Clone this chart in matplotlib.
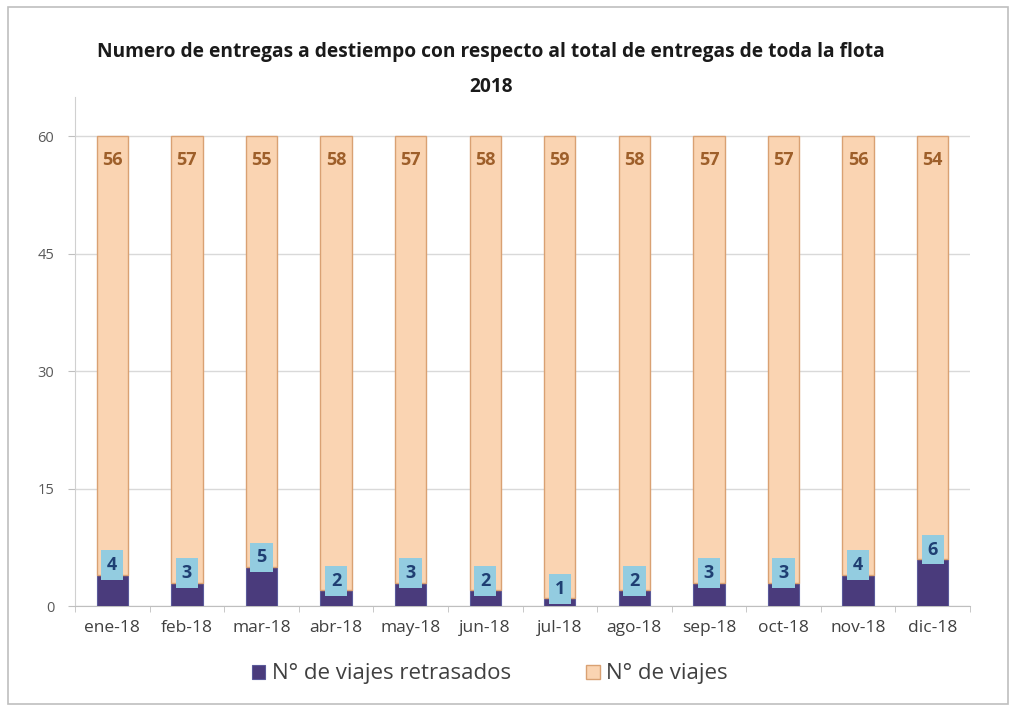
import matplotlib
matplotlib.use("Agg")
import matplotlib.pyplot as plt
from matplotlib.patches import Rectangle
import numpy as np

months = ["ene-18", "feb-18", "mar-18", "abr-18", "may-18", "jun-18",
          "jul-18", "ago-18", "sep-18", "oct-18", "nov-18", "dic-18"]
retrasados = [4, 3, 5, 2, 3, 2, 1, 2, 3, 3, 4, 6]
viajes = [56, 57, 55, 58, 57, 58, 59, 58, 57, 57, 56, 54]
yticks = [0, 15, 30, 45, 60]

plt.rcParams['font.family'] = ['Open Sans', 'DejaVu Sans']

fig = plt.figure(figsize=(10.14, 7.06), dpi=100)
ax = fig.add_axes([75/1014, 1-606/706, (970-75)/1014, (606-97)/706])

# outer frame
fig.patches.append(Rectangle((8/1014, 2/706), 1000/1014, 697/706, transform=fig.transFigure,
                             fill=False, edgecolor="#BFBFBF", linewidth=1.2))

x = np.arange(len(months))
w = 0.42
dark = "#4A3B7C"
orange = "#FAD4B2"
ax.bar(x, retrasados, w, color=dark, edgecolor="#5B5A9A", linewidth=0.8,
       label="N° de viajes retrasados", zorder=3)
ax.bar(x, viajes, w, bottom=retrasados, color=orange, edgecolor="#D9A173",
       linewidth=1.0, label="N° de viajes", zorder=3)

bw, bh = 0.30, 3.8
for xi, r, v in zip(x, retrasados, viajes):
    yc = r + 1.2
    ax.add_patch(Rectangle((xi - bw/2, yc - bh/2), bw, bh, facecolor="#93CCE0",
                           edgecolor="none", zorder=4))
    ax.text(xi, yc, str(r), ha="center", va="center", fontsize=13,
            fontweight="bold", color="#1F3F73", zorder=5)
    ax.text(xi, r + v - 3.0, str(v), ha="center", va="center", fontsize=13,
            fontweight="bold", color="#9E5F2A", zorder=5)

ax.set_xlim(-0.5, 11.5)
ax.set_ylim(0, 65)
ax.set_yticks(yticks)
ax.set_yticklabels([str(t) for t in yticks], fontsize=10.5, color="#595959")
ax.set_xticks(x)
ax.set_xticklabels(months, fontsize=12.5, color="#404040")
ax.set_xticks(np.arange(-0.5, 12, 1), minor=True)
ax.tick_params(axis="x", which="major", length=0, pad=10)
ax.tick_params(axis="x", which="minor", length=4, color="#BFBFBF")
ax.tick_params(axis="y", length=5, color="#BFBFBF", pad=10)
ax.yaxis.grid(True, color="#D9D9D9", linewidth=1.0, zorder=0)
ax.set_axisbelow(True)
for s in ["top", "right"]:
    ax.spines[s].set_visible(False)
ax.spines["left"].set_color("#D0D0D0")
ax.spines["bottom"].set_color("#BFBFBF")

fig.text(0.484, 1-52/706, "Numero de entregas a destiempo con respecto al total de entregas de toda la flota",
         ha="center", va="center", fontsize=13.8, fontweight="bold", color="#1A1A1A")
fig.text(0.484, 1-87/706, "2018", ha="center", va="center", fontsize=13.8,
         fontweight="bold", color="#1A1A1A")

fig.legend(loc="center", bbox_to_anchor=(0.483, 1-674/706), ncol=2, frameon=False,
           fontsize=16, handlelength=0.6, handleheight=0.6, handletextpad=0.3,
           columnspacing=3.4, labelcolor="#404040")

fig.savefig("out.png", dpi=100)
